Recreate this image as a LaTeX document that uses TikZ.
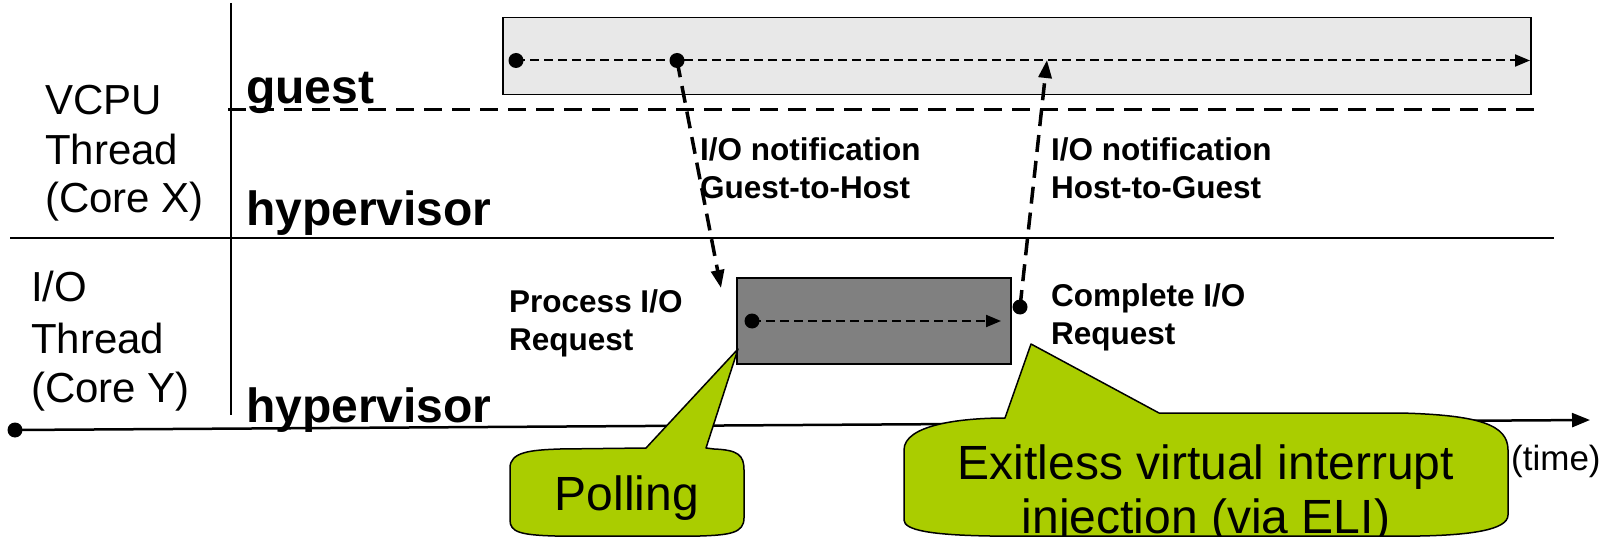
\documentclass[tikz,border=0pt]{standalone}
\usepackage{fontspec}
\setmainfont{Liberation Sans}
\usetikzlibrary{arrows.meta}
\definecolor{calloutgreen}{RGB}{170,205,0}
\definecolor{lightbox}{RGB}{232,232,232}
\definecolor{darkbox}{RGB}{128,128,128}

\begin{document}
\begin{tikzpicture}[x=1pt,y=-1pt,
  lane/.style={font=\fontsize{42}{48}\selectfont, anchor=base west, inner sep=0},
  level/.style={font=\bfseries\fontsize{48}{50}\selectfont, anchor=base west, inner sep=0},
  note/.style={font=\bfseries\fontsize{31.5}{36}\selectfont, anchor=base west, inner sep=0},
  bubbletext/.style={font=\fontsize{48}{54}\selectfont, anchor=base, inner sep=0},
  dot/.style={circle, fill=black, minimum size=15pt, inner sep=0},
  notify/.style={line width=3.5pt, dash pattern=on 17pt off 9pt, -{Triangle[length=18pt,width=13pt]}},
  flow/.style={line width=2pt, dash pattern=on 9pt off 5pt, -{Triangle[length=15pt,width=12pt]}},
  callout/.style={draw=black, line width=1.5pt, fill=calloutgreen, line join=round},
  frame/.style={draw=black, line width=1.5pt, anchor=north west, inner sep=0},
]
\useasboundingbox (0,0) rectangle (1608,537);

% lane separators
\coordinate (vtop) at (231,3);
\coordinate (vbot) at (231,415);
\draw[line width=2pt] (vtop) -- (vbot);
\coordinate (sl) at (10,238);
\coordinate (sr) at (1554,238);
\draw[line width=2pt] (sl) -- (sr);
\coordinate (dl) at (228,110);
\coordinate (dr) at (1538,110);
\draw[line width=3pt, dash pattern=on 18pt off 10pt] (dl) -- (dr);

% time axis
\node[dot] (t0) at (15,430) {};
\coordinate (tend) at (1590,420);
\draw[line width=2.5pt, -{Triangle[length=18pt,width=14pt]}] (t0.center) -- (tend);
\node[font=\fontsize{35}{40}\selectfont, anchor=base west, inner sep=0] (time) at (1511,470) {(time)};

% lane labels
\node[lane] (vc1) at (45,115) {VCPU};
\node[lane] (vc2) at (45,165) {Thread};
\node[lane] (vc3) at (45,213) {(Core X)};
\node[lane] (io1) at (31,301) {I/O};
\node[lane] (io2) at (31,353) {Thread};
\node[lane] (io3) at (31,402) {(Core Y)};

\node[level] (guest) at (246,104) {guest};
\node[level] (hyp1) at (246,226) {hypervisor};
\node[level] (hyp2) at (246,422) {hypervisor};

% guest execution
\node[frame, fill=lightbox, minimum width=1028pt, minimum height=77pt] (guestbox) at (502,17) {};
\node[dot] (g0) at (516,60.5) {};
\node[dot] (g1) at (677,60.5) {};
\coordinate (gend) at (1530,60.5);
\draw[flow] (g0.center) -- (gend);

% I/O processing
\node[frame, fill=darkbox, minimum width=274pt, minimum height=86pt] (iobox) at (736,277) {};
\node[dot] (p0) at (752,321) {};
\coordinate (pend) at (1001,321);
\draw[flow] (p0.center) -- (pend);
\node[dot] (c0) at (1020,307) {};

% notifications
\coordinate (downtip) at (721,288);
\coordinate (uptip) at (1047,60);
\draw[notify] (g1.center) -- (downtip);
\draw[notify] (c0.center) -- (uptip);

\node[note] (n1a) at (700,161) {I/O notification};
\node[note] (n1b) at (700,199) {Guest-to-Host};
\node[note] (n2a) at (1051,161) {I/O notification};
\node[note] (n2b) at (1051,199) {Host-to-Guest};
\node[note] (pr1) at (509,312) {Process I/O};
\node[note] (pr2) at (509,350) {Request};
\node[note] (cr1) at (1051,306) {Complete I/O};
\node[note] (cr2) at (1051,344) {Request};

% callouts
\coordinate (polltip) at (738,349);
\path[callout] (510,520) -- (510,468) .. controls (510,452) and (530,450) .. (560,449)
  -- (646,448) -- (polltip) -- (706,448) -- (714,449)
  .. controls (738,450) and (744,455) .. (744,470) -- (744,518)
  .. controls (744,533) and (730,535) .. (700,536) -- (555,536)
  .. controls (520,535) and (510,532) .. (510,520) -- cycle;
\node[bubbletext] (poll) at (627,510) {Polling};

\coordinate (elitip) at (1031,344);
\path[callout] (904,520) -- (904,450) .. controls (904,425) and (960,418) .. (1005,418)
  -- (elitip) -- (1159,413) -- (1400,413)
  .. controls (1480,415) and (1508,425) .. (1508,450) -- (1508,515)
  .. controls (1508,530) and (1470,535) .. (1420,536) -- (990,536)
  .. controls (930,535) and (904,530) .. (904,520) -- cycle;
\node[bubbletext] (eli1) at (1206,479) {Exitless virtual interrupt};
\node[bubbletext] (eli2) at (1206,533) {injection (via ELI)};
\end{tikzpicture}
\end{document}
